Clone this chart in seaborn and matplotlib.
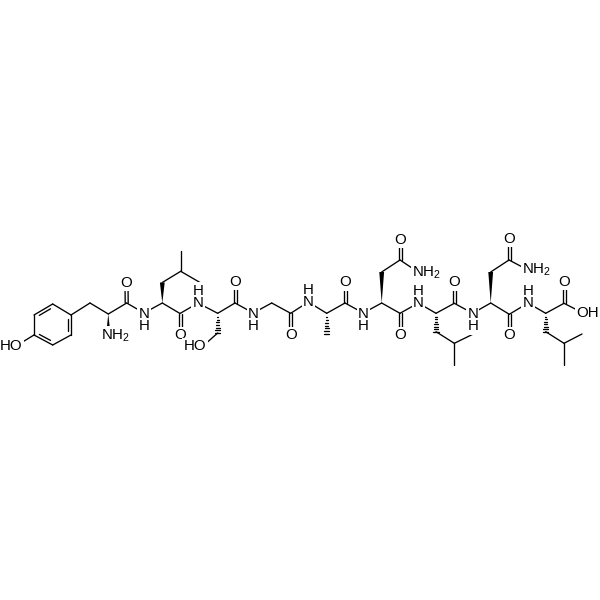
import numpy as np
import pandas as pd
import matplotlib
matplotlib.use("Agg")
import matplotlib.pyplot as plt
import seaborn as sns

# Atom positions (name -> pixel x, pixel y)
atom_names = ["o_ph","r1","r2","r3","r4","r5","r6","t_b","t_a","t_n","t_c","t_o",
              "n1","l1_a","l1_b","l1_g","l1_d1","l1_d2","l1_c","l1_o",
              "n2","s_a","s_b","s_o","s_c","s_co",
              "n3","g_a","g_c","g_o",
              "n4","a_a","a_b","a_c","a_o",
              "n5","d1_a","d1_b","d1_g","d1_od","d1_nd","d1_c","d1_o",
              "n6","l2_a","l2_b","l2_g","l2_d1","l2_d2","l2_c","l2_o",
              "n7","d2_a","d2_b","d2_g","d2_od","d2_nd","d2_c","d2_o",
              "n8","l3_a","l3_b","l3_g","l3_d1","l3_d2","l3_c","l3_o","l3_oh"]
atom_x = [16,34,34,52.7,71,71,52.7,90,108.3,108.3,126.7,126.5,
          144,162.3,162.3,180.7,180.7,200,180,180,
          198,217.7,217.7,203,235,235,
          253.3,271.7,290.7,290.7,
          308.3,326.7,326.7,345,345,
          363.3,381.7,381.7,400,400,418,400,400,
          418.3,436,436,454.3,472.7,454.3,454.3,454.3,
          472.7,490.7,490.7,509,509,528,509.3,509.3,
          528,545.7,545.7,564,582,564,564,564,583]
atom_y = [346,315,335,345,335,315,304,303,314,336,303,283,
          313,303,282.5,271.3,250.7,282.5,313.5,335,
          303,313.3,333,346,303,282,
          313,303,313.3,335,
          302,313.3,334,303,282.3,
          313,303,272,260,240,272,313.3,335,
          303,313.3,331.7,343.3,334.3,365,303.3,282.3,
          313.3,303,272,260,239,270,314.3,335,
          303,313.3,331.7,343.3,334,365,303.3,282,313]

single_bonds = [("o_ph","r2"),("r1","r2"),("r2","r3"),("r3","r4"),("r4","r5"),("r5","r6"),("r6","r1"),
                ("r5","t_b"),("t_b","t_a"),("t_a","t_c"),("t_c","n1"),("n1","l1_a"),("l1_a","l1_c"),
                ("l1_b","l1_g"),("l1_g","l1_d1"),("l1_g","l1_d2"),("l1_c","n2"),("n2","s_a"),
                ("s_a","s_c"),("s_b","s_o"),("s_c","n3"),("n3","g_a"),("g_a","g_c"),("g_c","n4"),
                ("n4","a_a"),("a_a","a_c"),("a_c","n5"),("n5","d1_a"),("d1_a","d1_c"),
                ("d1_b","d1_g"),("d1_g","d1_nd"),("d1_c","n6"),("n6","l2_a"),("l2_a","l2_c"),
                ("l2_b","l2_g"),("l2_g","l2_d1"),("l2_g","l2_d2"),("l2_c","n7"),("n7","d2_a"),
                ("d2_a","d2_c"),("d2_b","d2_g"),("d2_g","d2_nd"),("d2_c","n8"),("n8","l3_a"),
                ("l3_a","l3_c"),("l3_b","l3_g"),("l3_g","l3_d1"),("l3_g","l3_d2"),("l3_c","l3_oh")]
carbonyl_bonds = [("t_c","t_o"),("l1_c","l1_o"),("s_c","s_co"),("g_c","g_o"),("a_c","a_o"),
                  ("d1_g","d1_od"),("d1_c","d1_o"),("l2_c","l2_o"),("d2_g","d2_od"),
                  ("d2_c","d2_o"),("l3_c","l3_o")]
ring_inner_bonds = [("r1","r6"),("r2","r3"),("r4","r5")]
wedge_bonds = [("t_a","t_n"),("l1_a","l1_b"),("d1_a","d1_b"),("d2_a","d2_b")]
hash_bonds = [("s_a","s_b"),("a_a","a_b"),("l2_a","l2_b"),("l3_a","l3_b")]

label_texts = ["HO","NH$_2$","N\nH","O","O","H\nN","HO","O","N\nH","O","H\nN","O",
               "N\nH","O","NH$_2$","O","H\nN","O","N\nH","O","NH$_2$","O","H\nN","O","OH"]
label_x = [11,116,144,126.5,180,198,195,235,253.3,290.7,308.3,345,
           363.3,400,427,400,418.3,454.3,472.7,509,537,509.3,528,564,587.5]
label_y = [346,336,320,283,335,297,346,282,320,335,296,282.3,
           320,240,273,335,297,282.3,320,239,270,335,297,282,313]

pos = dict(zip(atom_names, zip(atom_x, atom_y)))

def seg(a, b, off=0.0, trim=0.0):
    p, q = np.array(pos[a], float), np.array(pos[b], float)
    d = q - p
    L = np.hypot(*d)
    u = d / L
    n = np.array([-u[1], u[0]])
    return p + u * trim + n * off, q - u * trim + n * off

rows = []
def add(p, q):
    k = len(rows)
    rows.append((k, p[0], p[1]))
    rows.append((k, q[0], q[1]))

for a, b in single_bonds:
    add(*seg(a, b))
for a, b in carbonyl_bonds:
    add(*seg(a, b, 1.5))
    add(*seg(a, b, -1.5))
cx, cy = np.mean(atom_x[1:7]), np.mean(atom_y[1:7])
for a, b in ring_inner_bonds:
    p, q = seg(a, b, trim=3)
    c = np.array([cx, cy])
    add(p + (c - p) * 0.17, q + (c - q) * 0.17)

# hashed stereo bonds: short strokes that widen towards the far atom
for a, b in hash_bonds:
    p, q = np.array(pos[a], float), np.array(pos[b], float)
    u = (q - p) / np.hypot(*(q - p))
    n = np.array([-u[1], u[0]])
    for t in np.linspace(0.06, 1.0, 8):
        m = p + (q - p) * t
        add(m - n * 2.6 * t, m + n * 2.6 * t)

df = pd.DataFrame([(r[0], r[1], r[2]) for r in rows], columns=["bond", "x", "y"])

sns.set_theme(style="white")
plt.rcParams["font.family"] = ["Liberation Sans", "DejaVu Sans"]
plt.rcParams["mathtext.default"] = "regular"

fig = plt.figure(figsize=(6, 6), dpi=100, facecolor="white")
ax = fig.add_axes([0, 0, 1, 1])
sns.lineplot(data=df, x="x", y="y", units="bond", estimator=None, sort=False,
             color="#000000", linewidth=0.95, legend=False, ax=ax, zorder=2)

for a, b in wedge_bonds:
    p, q = np.array(pos[a], float), np.array(pos[b], float)
    u = (q - p) / np.hypot(*(q - p))
    n = np.array([-u[1], u[0]])
    tri = np.array([p, q + n * 2.4, q - n * 2.4])
    ax.fill(tri[:, 0], tri[:, 1], color="#000000", lw=0, zorder=2)

for s, x, y in zip(label_texts, label_x, label_y):
    ax.text(x, y, s, ha="center", va="center", ma="center", fontsize=10.8, linespacing=0.85,
            color="#000000", zorder=3,
            bbox=dict(facecolor="white", edgecolor="none", pad=1.0))

ax.set_xlim(0, 600)
ax.set_ylim(600, 0)
ax.set_axis_off()
fig.savefig("out.png", dpi=100, facecolor="white")
